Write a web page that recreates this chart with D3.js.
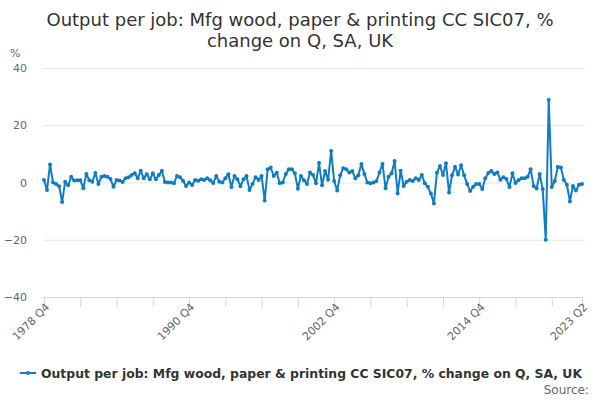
<!DOCTYPE html>
<html>
<head>
<meta charset="UTF-8">
<title>Output per job: Mfg wood, paper & printing</title>
<script src="https://cdn.jsdelivr.net/npm/d3@7"></script>
<style>
    body {
        margin: 0;
        background: #fff;
        font-family: "DejaVu Sans", sans-serif;
    }
</style>
</head>
<body>
<script>
// quarterly % change, 1978 Q4 .. 2023 Q2
var startYear = 1978, startQuarter = 4;
var values = [
    0.9, -2.6, 6.3, 0, -0.5, -1.3, -6.8, 0.3, -1, 2.0,
    0.7, 0.8, 0.8, -2, 3, 0.8, 0.3, 3.3, -0.5, 2,
    2.3, 2, 1.2, -1.5, 0.9, 0.7, 0.2, 1.5, 1.8, 2.6,
    3.2, 1.5, 4.1, 1.5, 2.9, 1.1, 3.2, 1.1, 2.6, 4.1,
    0.2, 0, 0, -0.3, 2.3, 1.8, 0.6, -1.2, 0, -0.9,
    0.9, 0.6, 1.1, 0.9, 1.5, 0.8, -0.2, 2.3, 0.3, 0,
    1.5, 2.9, -1.6, 2.3, 1.1, -1.3, 1.1, 2.3, -2.6, -0.5,
    1.8, 0.9, 2.3, -6.3, 4.6, 5.2, 2.3, 3.4, -0.3, 0,
    3.0, 4.6, 4.6, 3.2, -2.2, 2.3, 0.8, -0.5, 3.5, 2.6,
    -0.3, 6.8, -1.0, 4.0, 1.0, 11.0, 0.5, -2.8, 2.5, 5.0,
    4.6, 3.5, 4.0, 1.5, 2.5, 6.5, 3.0, 0, -0.3, 0,
    0.5, 3.5, 6.5, -2.0, 2.0, 3.2, 7.5, -3.8, 4.1, -1.2,
    0.3, 0.9, 0.5, 1.5, 0.9, 2.6, -0.3, -1.5, -3.8, -7.3,
    3.4, 5.8, 2.6, 6.7, -3.5, 2.5, 5.5, 2.8, 6.0, 2.5,
    -0.5, -3.0, -1.5, -0.5, -0.5, -2.3, 1.5, 3.3, 4.0, 3.0,
    3.5, 1.0, 1.8, 1.2, -1.6, 3.2, -0.2, 0.8, 1.5, 1.5,
    2.0, 4.6, -1.2, -2.1, 3.0, -2.3, -20.0, 28.8, -1.6, 0.5,
    5.5, 5.2, 0.9, -0.8, -6.6, -1.2, -2.8, -0.8, -0.5
];
var yTicks = [-40, -20, 0, 20, 40];
var xLabelEvery = 48, xTickEvery = 12;

var titleLines = ["Output per job: Mfg wood, paper & printing CC SIC07, %", "change on Q, SA, UK"];
var seriesName = "Output per job: Mfg wood, paper & printing CC SIC07, % change on Q, SA, UK";

var periods = values.map(function (v, i) {
    var q = startQuarter - 1 + i;
    return (startYear + Math.floor(q / 4)) + " Q" + (q % 4 + 1);
});

var width = 600, height = 400;
var lineColor = "#0f7cc4";

var svg = d3.select("body").append("svg").attr("width", width).attr("height", height);

var x = d3.scaleLinear().domain([0, values.length - 1]).range([44, 582]);
var y = d3.scaleLinear().domain([-40, 40]).range([297, 68]);

// title
svg.append("text")
    .attr("x", 300).attr("y", 26)
    .attr("text-anchor", "middle")
    .attr("fill", "#333")
    .style("font-size", "18px")
    .selectAll("tspan").data(titleLines).enter().append("tspan")
    .attr("x", 300)
    .attr("dy", function (d, i) { return i ? 21 : 0; })
    .text(function (d) { return d; });

svg.append("text")
    .attr("x", 10).attr("y", 57)
    .attr("fill", "#666")
    .style("font-size", "11px")
    .text("%");

// grid + y labels
var yAxis = d3.axisLeft(y).tickValues(yTicks).tickSize(-(585 - 43)).tickPadding(16);
var gy = svg.append("g").attr("transform", "translate(43,0)").call(yAxis);
gy.select(".domain").remove();
gy.selectAll(".tick line").attr("stroke", "#e6e6e6");
gy.selectAll(".tick").filter(function (d) { return d === -40; }).select("line").remove();
gy.selectAll(".tick text").attr("fill", "#666").style("font-size", "11px").style("font-family", "DejaVu Sans");

// x axis
var tickIdx = d3.range(0, values.length, xTickEvery).concat([values.length - 1]);
var xAxis = d3.axisBottom(x).tickValues(tickIdx).tickSize(10)
    .tickFormat(function (d) {
        return (d % xLabelEvery === 0 || d === values.length - 1) ? periods[d] : "";
    });
var gx = svg.append("g").attr("transform", "translate(0,297)").call(xAxis);
gx.select(".domain").attr("stroke", "#ccd6eb").attr("d", "M43,0.5H583");
gx.selectAll(".tick line").attr("stroke", "#ccd6eb");
gx.selectAll(".tick text")
    .attr("fill", "#666")
    .style("font-size", "11px")
    .style("font-family", "DejaVu Sans")
    .attr("text-anchor", "end")
    .attr("transform", "translate(3,8) rotate(-45)")
    .attr("dy", "0.35em")
    .attr("y", 0);

// series
var line = d3.line().x(function (d, i) { return x(i); }).y(function (d) { return y(d); });
svg.append("path").datum(values)
    .attr("fill", "none")
    .attr("stroke", lineColor)
    .attr("stroke-width", 2)
    .attr("stroke-linejoin", "round")
    .attr("d", line);
svg.append("g").selectAll("circle").data(values).enter().append("circle")
    .attr("cx", function (d, i) { return x(i); })
    .attr("cy", function (d) { return y(d); })
    .attr("r", 2)
    .attr("fill", lineColor);

// legend
var lg = svg.append("g").attr("transform", "translate(20,373)");
lg.append("line").attr("x1", 0).attr("x2", 16).attr("y1", 0).attr("y2", 0)
    .attr("stroke", lineColor).attr("stroke-width", 2);
lg.append("circle").attr("cx", 8).attr("cy", 0).attr("r", 2).attr("fill", lineColor);
lg.append("text").attr("x", 21).attr("y", 4.5)
    .attr("fill", "#333")
    .style("font-size", "12.4px")
    .style("font-weight", "bold")
    .text(seriesName);

svg.append("text")
    .attr("x", 589).attr("y", 394)
    .attr("text-anchor", "end")
    .attr("fill", "#666")
    .style("font-size", "12px")
    .text("Source:");
</script>
</body>
</html>
